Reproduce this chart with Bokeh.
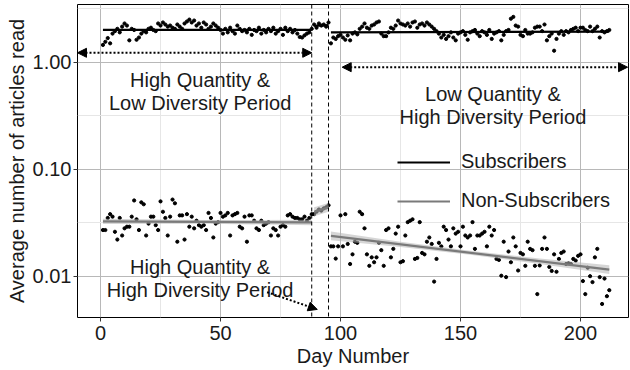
import numpy as np
from bokeh.plotting import figure
from bokeh.models import (Range1d, FixedTicker, PrintfTickFormatter, Span, Label,
                          Arrow, NormalHead, Legend, LegendItem)
from bokeh.embed import file_html
from bokeh.resources import INLINE

# ---------------- data ----------------
days = list(range(1, 213))

subscribers = [
    1.45, 1.55, 1.68, 1.50, 1.85, 1.95, 2.05, 1.90, 2.15, 2.30,
    2.20, 1.60, 2.05, 2.00, 1.62, 1.70, 1.85, 1.95, 1.90, 2.05,
    2.10, 2.00, 1.95, 2.30, 2.20, 2.35, 2.25, 2.15, 2.20, 2.10,
    2.05, 2.25, 2.15, 2.05, 2.30, 2.40, 2.50, 2.35, 2.45, 2.20,
    2.30, 2.10, 2.35, 2.25, 2.05, 2.15, 2.30, 2.20, 2.10, 2.00,
    1.85, 2.05, 1.90, 2.10, 1.95, 1.85, 2.20, 2.05, 1.95, 2.00,
    1.90, 2.05, 1.80, 2.00, 1.95, 2.10, 1.85, 2.00, 1.90, 2.05,
    1.95, 2.10, 1.85, 1.95, 2.05, 1.80, 2.10, 1.95, 2.05, 1.90,
    2.00, 1.85, 1.72, 1.70, 1.78, 1.85, 1.90, 2.05,
    2.25, 2.10, 2.30, 2.20, 2.25, 2.15, 2.35,
    1.50, 1.70, 1.65, 1.75, 1.80, 1.70, 1.62, 1.78, 1.60, 1.85,
    1.90, 1.82, 2.05, 2.15, 2.30, 2.10, 2.05, 2.20, 2.25, 2.35,
    2.40, 1.85, 1.75, 1.75, 1.90, 2.10, 2.05, 2.20, 2.45, 2.30,
    2.25, 2.20, 2.30, 2.15, 2.35, 2.40, 2.10, 2.25, 2.30, 2.20,
    2.35, 2.25, 2.15, 2.05, 1.95, 1.85, 1.70, 1.80, 1.65, 1.75,
    1.90, 1.70, 1.60, 1.85, 1.90, 1.95, 1.80, 1.62, 1.90, 1.95,
    2.00, 1.85, 1.75, 1.95, 1.90, 1.80, 2.00, 1.65, 1.85, 1.90,
    1.95, 1.60, 1.80, 1.95, 2.00, 2.55, 2.65, 2.20, 2.15, 1.80,
    1.75, 2.00, 1.85, 1.85, 1.90, 2.10, 2.15, 2.15, 1.95, 2.25,
    1.60, 1.75, 1.85, 1.28, 1.65, 1.85, 1.95, 1.80, 1.95, 1.90,
    2.00, 2.05, 2.10, 1.95, 2.10, 2.10, 2.00, 1.95, 2.15, 1.95,
    2.05, 2.15, 1.70, 1.95, 1.90, 1.95, 2.00,
]

non_subscribers = [
    0.027, 0.027, 0.035, 0.038, 0.036, 0.026, 0.022, 0.035, 0.024, 0.028,
    0.029, 0.029, 0.036, 0.051, 0.034, 0.027, 0.049, 0.047, 0.024, 0.031,
    0.036, 0.036, 0.030, 0.027, 0.050, 0.040, 0.035, 0.024, 0.036, 0.052,
    0.048, 0.021, 0.037, 0.037, 0.022, 0.038, 0.029, 0.036, 0.028, 0.033,
    0.030, 0.029, 0.030, 0.027, 0.039, 0.035, 0.023, 0.031, 0.032, 0.039,
    0.036, 0.037, 0.039, 0.024, 0.037, 0.038, 0.039, 0.029, 0.028, 0.036,
    0.021, 0.037, 0.037, 0.033, 0.028, 0.027, 0.033, 0.030, 0.031, 0.032,
    0.024, 0.028, 0.027, 0.024, 0.029, 0.030, 0.029, 0.037, 0.038, 0.036,
    0.035, 0.035, 0.034, 0.034, 0.036, 0.033, 0.035, 0.038,
    0.038, 0.040, 0.042, 0.041, 0.043, 0.044, 0.046,
    0.019, 0.019, 0.0146, 0.019, 0.037, 0.019, 0.038, 0.020, 0.013, 0.016,
    0.021, 0.0205, 0.040, 0.038, 0.028, 0.016, 0.0125, 0.015, 0.0135, 0.015,
    0.0205, 0.0175, 0.0125, 0.027, 0.028, 0.015, 0.018, 0.025, 0.029, 0.0135,
    0.0138, 0.024, 0.032, 0.033, 0.034, 0.0145, 0.0148, 0.032, 0.0165, 0.016,
    0.021, 0.023, 0.020, 0.0089, 0.0145, 0.0205, 0.019, 0.029, 0.027, 0.022,
    0.019, 0.028, 0.025, 0.026, 0.019, 0.029, 0.024, 0.023, 0.024, 0.032,
    0.018, 0.024, 0.024, 0.025, 0.026, 0.019, 0.029, 0.024, 0.027, 0.0145,
    0.0142, 0.0101, 0.021, 0.0098, 0.017, 0.0135, 0.023, 0.019, 0.0113, 0.0165,
    0.016, 0.0125, 0.021, 0.018, 0.0175, 0.0125, 0.0068, 0.0126, 0.018, 0.023,
    0.018, 0.0122, 0.0112, 0.016, 0.0110, 0.0145, 0.0165, 0.017, 0.013, 0.0132,
    0.013, 0.0145, 0.014, 0.0155, 0.016, 0.009, 0.0068, 0.012, 0.010, 0.0088,
    0.015, 0.018, 0.0098, 0.0055, 0.0095, 0.0065, 0.0074,
]

# fitted trend per period (start/end day, start/end value)
fit_days = [[1, 88], [89, 95], [96, 212]]
sub_fit = [[2.00, 2.00], [2.18, 2.22], [1.90, 1.93]]
ns_fit = [[0.0325, 0.0318], [0.040, 0.044], [0.0238, 0.0115]]
# confidence band (multiplicative half-width) at given days
ns_band_days = [[1, 44, 88], [89, 95], [96, 125, 154, 183, 212]]
ns_band_fac = [[1.06, 1.04, 1.06], [1.10, 1.10], [1.10, 1.06, 1.045, 1.06, 1.10]]

period_bounds = [88, 95]
x_ticks = [0, 50, 100, 150, 200]
x_minor = [25, 75, 125, 175, 225]
y_ticks = [0.01, 0.1, 1.0]
y_minor = [0.00316, 0.0316, 0.316, 3.162]

FONT = "Liberation Sans"
TXT = "#1a1a1a"

n1 = min(len(days), len(subscribers))
n2 = min(len(days), len(non_subscribers))

p = figure(width=630, height=370, output_backend="svg", toolbar_location=None,
           y_axis_type="log", x_range=Range1d(-9.6, 220.0), y_range=Range1d(0.00411, 3.46),
           min_border_left=77, min_border_right=2, min_border_top=4, min_border_bottom=53)
p.background_fill_color = "white"
p.border_fill_color = "white"
p.outline_line_color = "black"
p.outline_line_width = 1

p.xaxis.ticker = FixedTicker(ticks=x_ticks, minor_ticks=x_minor)
p.yaxis.ticker = FixedTicker(ticks=y_ticks, minor_ticks=y_minor)
p.yaxis.formatter = PrintfTickFormatter(format="%.2f")
p.grid.grid_line_color = "#b8b8b8"
p.grid.minor_grid_line_color = "#e6e6e6"

p.axis.axis_line_color = None
p.axis.major_tick_line_color = "#333333"
p.axis.major_tick_out = 4
p.axis.major_tick_in = 0
p.axis.minor_tick_line_color = None
p.axis.major_label_text_font = FONT
p.axis.major_label_text_font_size = "20px"
p.axis.major_label_text_color = TXT
p.axis.axis_label_text_font = FONT
p.axis.axis_label_text_font_size = "20px"
p.axis.axis_label_text_font_style = "normal"
p.axis.axis_label_text_color = TXT
p.xaxis.axis_label = "Day Number"
p.yaxis.axis_label = "Average number of articles read"
p.xaxis.major_label_standoff = 4
p.xaxis.axis_label_standoff = 2
p.yaxis.major_label_standoff = 2
p.yaxis.axis_label_standoff = 2

# points
p.scatter(days[:n1], subscribers[:n1], size=3.2, color="black")
p.scatter(days[:n2], non_subscribers[:n2], size=3.2, color="black")

def seg_line(dd, vv, d_eval):
    lv = np.interp(d_eval, dd, np.log10(vv))
    return 10 ** lv

# bands
for dd, vv, bd, bf in zip(fit_days, ns_fit, ns_band_days, ns_band_fac):
    c = seg_line(dd, vv, bd)
    bf = np.array(bf)
    p.varea(x=bd, y1=c / bf, y2=c * bf, fill_color="#b5b5b5", fill_alpha=0.55)

sub_r = None
ns_r = None
for dd, vv in zip(fit_days, sub_fit):
    sub_r = p.line(dd, vv, line_color="black", line_width=2.2)
for dd, vv in zip(fit_days, ns_fit):
    ns_r = p.line(dd, vv, line_color="#7a7a7a", line_width=2.2)

for b in period_bounds:
    p.add_layout(Span(location=b, dimension="height", line_color="black",
                      line_dash="4 3", line_width=1))

def lab(x, y, t):
    p.add_layout(Label(x=x, y=y, text=t, text_align="center", text_baseline="alphabetic",
                       text_font=FONT, text_font_size="20px", text_color=TXT))

lab(41.5, 0.675, "High Quantity &")
lab(41.5, 0.414, "Low Diversity Period")
lab(163.5, 0.499, "Low Quantity &")
lab(163.5, 0.306, "High Diversity Period")
lab(41.5, 0.01214, "High Quantity &")
lab(41.5, 0.00735, "High Diversity Period")

def head():
    return NormalHead(size=9, fill_color="black", line_color="black", line_width=1)

p.add_layout(Arrow(start=head(), end=head(), x_start=-9.6, y_start=1.224, x_end=88, y_end=1.224,
                   line_color="black", line_width=2, line_dash="2 2"))
p.add_layout(Arrow(start=head(), end=head(), x_start=100.7, y_start=0.898, x_end=219.6, y_end=0.898,
                   line_color="black", line_width=2, line_dash="2 2"))
p.add_layout(Arrow(start=None, end=head(), x_start=69.4, y_start=0.00708, x_end=90.3, y_end=0.00489,
                   line_color="black", line_width=2, line_dash="2 2"))

legend = Legend(items=[LegendItem(label="Subscribers", renderers=[sub_r]),
                       LegendItem(label="Non-Subscribers", renderers=[ns_r])],
                location=(320, 105), orientation="vertical", glyph_width=53, glyph_height=20,
                label_standoff=11, spacing=16, padding=0, margin=0,
                background_fill_alpha=0, border_line_color=None,
                label_text_font=FONT, label_text_font_size="20px", label_text_color=TXT)
p.add_layout(legend)

open("out.html", "w").write(file_html(p, INLINE))
